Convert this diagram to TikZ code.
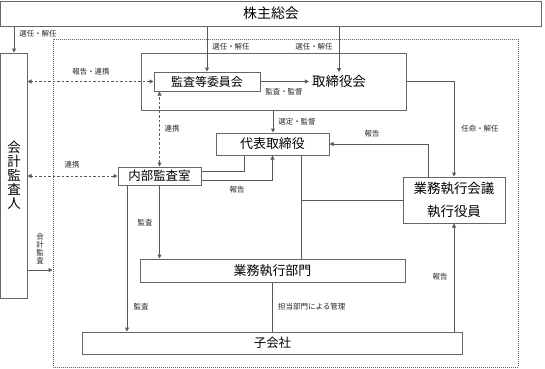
\documentclass[tikz,border=0pt]{standalone}
\usepackage{fontspec}
\setmainfont{Noto Sans CJK JP}
\usetikzlibrary{arrows.meta,calc}
\begin{document}
\begin{tikzpicture}[x=1bp,y=-1bp,
  box/.style={draw=black!60, line width=1bp, inner sep=0pt, fill=white},
  big/.style={font=\fontsize{13}{14}\selectfont},
  lbl/.style={font=\fontsize{7.5}{8}\selectfont, text=black!85, inner sep=0pt},
  con/.style={draw=black!65, line width=1bp},
  arr/.style={con, -{Triangle[length=4bp,width=4bp]}},
  darr/.style={con, dash pattern=on 2.5bp off 2bp, {Triangle[length=4bp,width=4bp]}-{Triangle[length=4bp,width=4bp]}},
]
\useasboundingbox (0,0) rectangle (545,368);
% dotted frame
\node[draw=black!60, line width=0.8bp, dash pattern=on 1bp off 1bp, minimum width=465bp, minimum height=328bp, inner sep=0pt] (frame) at (285.5,203) {};
% boxes
\node[box, big, font=\fontsize{14}{15}\selectfont, minimum width=540bp, minimum height=25bp] (sh) at (271,13.5) {株主総会};
\node[box, minimum width=26bp, minimum height=245bp, align=center, font=\fontsize{13.5}{14}\selectfont] (kaikei) at (14,175.5) {会\\計\\監\\査\\人};
\node[box, minimum width=265bp, minimum height=57bp] (board) at (273.5,81.5) {};
\node[big, font=\fontsize{13.5}{14}\selectfont, inner sep=3bp] (boardtxt) at (339,81.5) {取締役会};
\node[box, font=\fontsize{12}{13}\selectfont, minimum width=106bp, minimum height=19bp] (audit) at (207,81.5) {監査等委員会};
\node[box, big, minimum width=113bp, minimum height=22bp] (rep) at (272.5,144) {代表取締役};
\node[box, font=\fontsize{12.5}{13}\selectfont, minimum width=83bp, minimum height=18bp] (ia) at (159.5,176) {内部監査室};
\node[box, big, font=\fontsize{13.5}{23}\selectfont, align=center, minimum width=102bp, minimum height=46bp] (exec) at (454,200) {業務執行会議\\執行役員};
\node[box, big, minimum width=265bp, minimum height=23bp] (dept) at (272.5,270.5) {業務執行部門};
\node[box, font=\fontsize{12.5}{13}\selectfont, minimum width=379bp, minimum height=22bp] (sub) at (272.5,343) {子会社};
% connectors
\draw[arr] (sh.south -| kaikei.north) -- (kaikei.north);
\node[lbl] (l1) at (38,34) {選任・解任};
\draw[arr] (sh.south -| audit.north) -- (audit.north);
\node[lbl] (l2) at (231,47) {選任・解任};
\draw[arr] (sh.south -| boardtxt.north) -- (boardtxt.north);
\node[lbl] (l3) at (314,47) {選任・解任};
\draw[arr] (audit.east) -- (boardtxt.west);
\node[lbl] (l4) at (284,92) {監査・監督};
\coordinate (bs) at ([xshift=-0.5bp]board.south);
\draw[arr] (bs) -- (bs |- rep.north);
\node[lbl] (l5) at (297,122) {選定・監督};
\draw[arr] (board.east) -| (exec.north);
\node[lbl] (l6) at (480,129) {任命・解任};
\coordinate (e1) at ([xshift=-26bp]exec.north);
\draw[arr] (e1) |- (rep.east);
\node[lbl] (l7) at (372,134) {報告};
\coordinate (r1) at ([xshift=28.5bp]rep.south);
\draw[con] (r1) -- (r1 |- dept.north);
\draw[con] (exec.west) -- (exec.west -| r1);
\coordinate (r2) at ([xshift=-28.5bp]rep.south);
\draw[con] ([yshift=5bp]ia.east) -| (r2);
\draw[arr] ([yshift=-4bp]ia.east) -| (rep.south);
\node[lbl] (l8) at (237,190) {報告};
\draw[darr] (ia.north) -- (ia.north |- audit.south);
\node[lbl] (l9) at (172,129) {連携};
\draw[darr] (audit.west) -- (audit.west -| kaikei.east);
\node[lbl] (l10) at (91,72) {報告・連携};
\draw[darr] (ia.west) -- (ia.west -| kaikei.east);
\node[lbl] (l11) at (72,165) {連携};
\draw[arr] (ia.south) -- (ia.south |- dept.north);
\node[lbl] (l12) at (145,223) {監査};
\coordinate (i1) at ([xshift=-32.5bp]ia.south);
\draw[arr] (i1) -- (i1 |- sub.north);
\node[lbl] (l13) at (141,307) {監査};
\draw[con] (dept.south) -- (sub.north);
\node[lbl, anchor=west] (l14) at (278,307) {担当部門による管理};
\draw[arr] (sub.north -| exec.south) -- (exec.south);
\node[lbl] (l15) at (440,277) {報告};
\coordinate (k1) at ([yshift=-94.5bp]kaikei.east);
\draw[arr] (k1) -- (k1 -| frame.west);
\node[lbl, align=center, font=\fontsize{7.5}{8}\selectfont] (l16) at (40,249) {会\\計\\監\\査};
\end{tikzpicture}
\end{document}
